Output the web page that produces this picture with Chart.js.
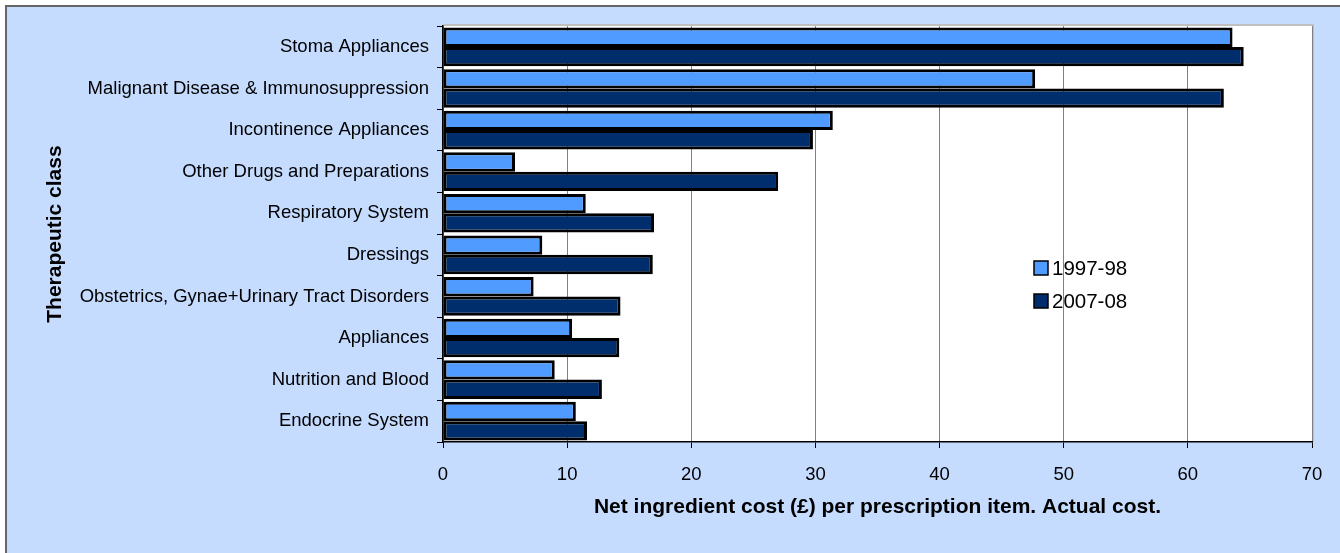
<!DOCTYPE html>
<html lang="en">
<head>
    <meta charset="UTF-8">
    <title>Net ingredient cost per prescription item</title>
    <script src="https://cdn.jsdelivr.net/npm/chart.js"></script>
    <style>
        body { margin: 0; background: #fff; }
        #box {
            position: absolute; left: 5px; top: 5px;
            width: 1333px; height: 546px;
            border-left: 2px solid #666; border-top: 2px solid #666;
            background: #C5DCFE;
        }
    </style>
</head>
<body>
    <div id="box"><canvas id="costChart"></canvas></div>

    <script>
        const categories = [
            'Stoma Appliances',
            'Malignant Disease & Immunosuppression',
            'Incontinence Appliances',
            'Other Drugs and Preparations',
            'Respiratory System',
            'Dressings',
            'Obstetrics, Gynae+Urinary Tract Disorders',
            'Appliances',
            'Nutrition and Blood',
            'Endocrine System'
        ];
        const cost9798 = [63.6, 47.7, 31.4, 5.8, 11.5, 8.0, 7.3, 10.4, 9.0, 10.7];
        const cost0708 = [64.5, 62.9, 29.8, 27.0, 17.0, 16.9, 14.3, 14.2, 12.8, 11.6];
        const xTicks = [0, 10, 20, 30, 40, 50, 60, 70];
        const xTitle = 'Net ingredient cost (£) per prescription item. Actual cost.';
        const yTitle = 'Therapeutic class';

        const FONT = 'Liberation Sans, Arial, sans-serif';

        // white plot area with grey shadow on top/right
        const plotArea = {
            id: 'plotArea',
            beforeDraw(chart) {
                const { ctx, chartArea: a } = chart;
                ctx.save();
                ctx.fillStyle = '#fff';
                ctx.fillRect(a.left, a.top, a.right - a.left, a.bottom - a.top);
                ctx.strokeStyle = '#C0C0C0';
                ctx.lineWidth = 2;
                ctx.beginPath();
                ctx.moveTo(a.left, a.top - 1);
                ctx.lineTo(a.right + 1, a.top - 1);
                ctx.lineTo(a.right + 1, a.bottom);
                ctx.stroke();
                ctx.restore();
            }
        };

        // legend sits inside the plot area
        const innerLegend = {
            id: 'innerLegend',
            afterDraw(chart) {
                const ctx = chart.ctx;
                ctx.save();
                ctx.font = '20.5px ' + FONT;
                ctx.textBaseline = 'middle';
                chart.data.datasets.forEach((ds, i) => {
                    const y = 261 + i * 33;
                    ctx.fillStyle = ds.backgroundColor;
                    ctx.fillRect(1027, y - 7, 14, 14);
                    ctx.strokeStyle = '#000';
                    ctx.lineWidth = 1.5;
                    ctx.strokeRect(1027, y - 7, 14, 14);
                    ctx.fillStyle = '#000';
                    ctx.fillText(ds.label, 1045, y + 1);
                });
                ctx.restore();
            }
        };

        new Chart(document.getElementById('costChart'), {
            type: 'bar',
            data: {
                labels: categories,
                datasets: [{
                    label: '1997-98',
                    data: cost9798,
                    backgroundColor: '#509BFF',
                    borderColor: '#000',
                    borderWidth: 3,
                    borderSkipped: false
                }, {
                    label: '2007-08',
                    data: cost0708,
                    backgroundColor: '#002D6B',
                    borderColor: '#000',
                    borderWidth: 3,
                    borderSkipped: false
                }]
            },
            options: {
                indexAxis: 'y',
                responsive: true,
                maintainAspectRatio: false,
                animation: false,
                categoryPercentage: 0.93,
                barPercentage: 1.0,
                layout: { padding: { top: 16, right: 28, left: 0, bottom: 0 } },
                plugins: {
                    legend: { display: false },
                    tooltip: { enabled: false }
                },
                scales: {
                    x: {
                        min: 0,
                        max: 70,
                        afterBuildTicks(scale) {
                            scale.ticks = xTicks.map(v => ({ value: v }));
                        },
                        afterFit(scale) { scale.height = 111; },
                        grid: { color: '#808080', tickColor: '#000', tickLength: 6 },
                        border: { color: '#000', width: 1.5 },
                        ticks: { color: '#000', padding: 16, font: { family: FONT, size: 18.5 } },
                        title: {
                            display: true,
                            text: xTitle,
                            color: '#000',
                            padding: { top: 0, bottom: 33 },
                            font: { family: FONT, size: 21, weight: 'bold' }
                        }
                    },
                    y: {
                        afterFit(scale) { scale.width = 436; },
                        grid: { drawOnChartArea: false, color: '#000', tickLength: 6 },
                        border: { color: '#000', width: 1.5 },
                        ticks: { color: '#000', padding: 8, font: { family: FONT, size: 18.5 } },
                        title: {
                            display: true,
                            text: yTitle,
                            color: '#000',
                            padding: { top: 36, bottom: 0 },
                            font: { family: FONT, size: 21, weight: 'bold' }
                        }
                    }
                }
            },
            plugins: [plotArea, innerLegend]
        });
    </script>
</body>
</html>
